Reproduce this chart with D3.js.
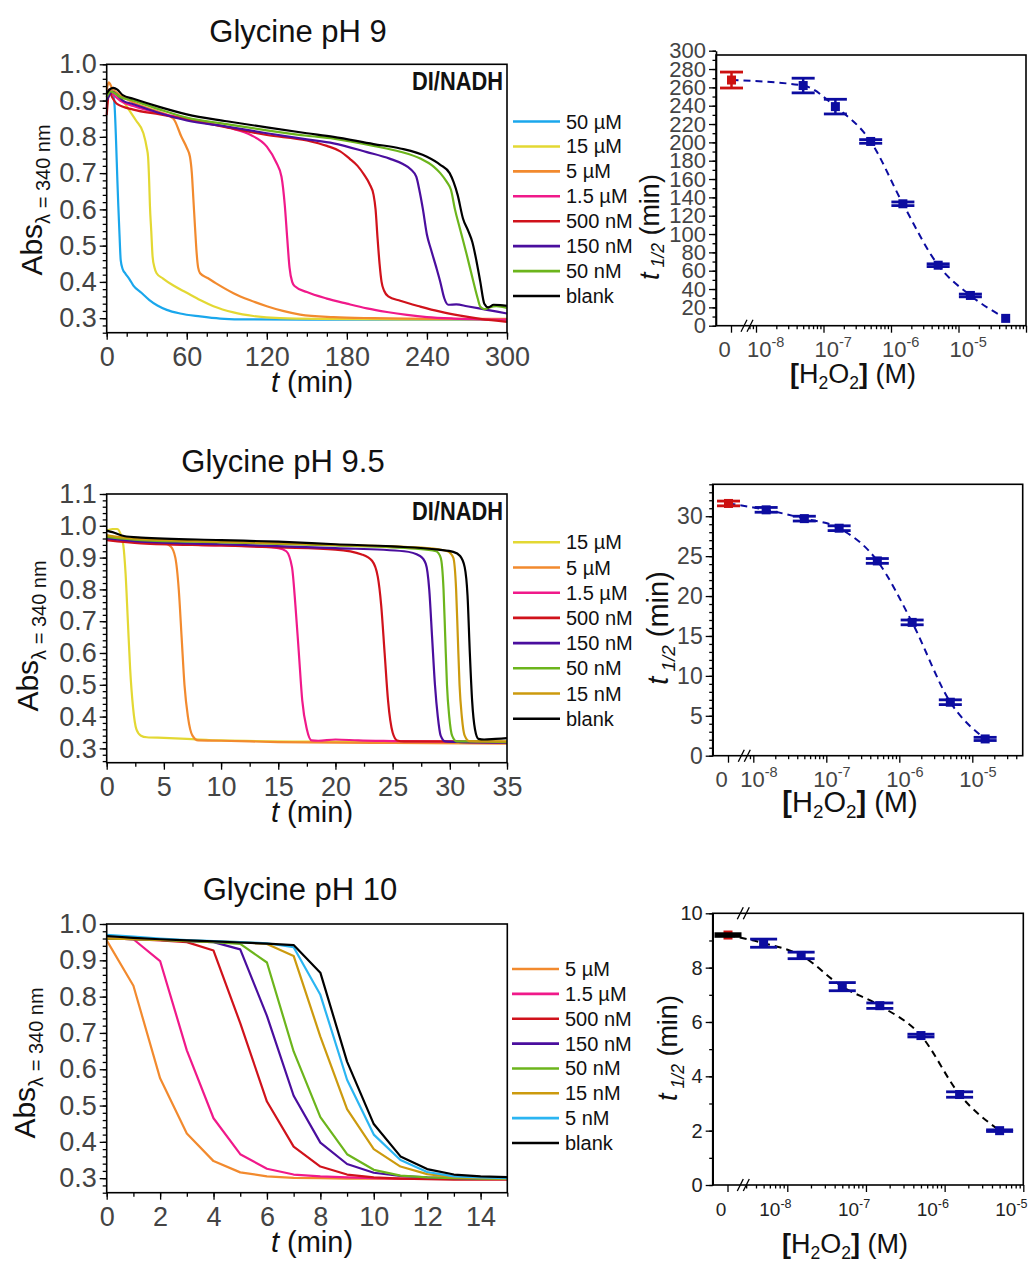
<!DOCTYPE html>
<html>
<head>
<meta charset="utf-8">
<script src="https://cdn.jsdelivr.net/npm/d3@7"></script>
<style>
  body { margin: 0; background: #fff; }
  svg { font-family: "Liberation Sans", Arial, Helvetica, sans-serif; }
</style>
</head>
<body>
<svg id="fig" width="1028" height="1266"></svg>
<script>
// ---------------- data ----------------

// Glycine pH 9 : absorbance traces, [t (min), Abs]
var ph9Labels = ["50 µM", "15 µM", "5 µM", "1.5 µM", "500 nM", "150 nM", "50 nM", "blank"];
var ph9Traces = [
  [[0,0.90],[1.5,0.915],[3,0.925],[5,0.915],[6,0.88],[7,0.79],[8,0.68],[8.7,0.61],[9.6,0.53],[10.5,0.46],[12,0.435],[14,0.423],[17,0.408],[20,0.39],[26,0.37],[32,0.35],[38,0.335],[45,0.323],[55,0.313],[70,0.305],[85,0.299],[100,0.297],[150,0.296],[200,0.296],[250,0.296],[300,0.296]],
  [[0,0.91],[2,0.93],[5,0.925],[10,0.91],[17.5,0.87],[22,0.845],[27.5,0.81],[30,0.77],[31,0.745],[31.8,0.68],[32.4,0.61],[33.4,0.54],[34.4,0.47],[35.8,0.44],[37.4,0.424],[42,0.41],[50,0.39],[60,0.37],[70,0.35],[80,0.333],[95,0.316],[110,0.306],[130,0.3],[160,0.298],[220,0.297],[300,0.297]],
  [[0,0.93],[1.5,0.95],[4,0.935],[10,0.915],[20,0.895],[30,0.88],[40,0.868],[50,0.85],[56,0.80],[60,0.77],[62.4,0.745],[63.8,0.70],[65,0.626],[66.2,0.55],[67.4,0.48],[68.5,0.44],[70,0.424],[76,0.41],[82,0.396],[95,0.369],[107,0.35],[120,0.333],[132,0.32],[145,0.31],[170,0.303],[200,0.3],[250,0.298],[300,0.298]],
  [[0,0.88],[1.5,0.93],[4,0.92],[10,0.9],[20,0.885],[40,0.865],[60,0.85],[80,0.835],[95,0.822],[108,0.805],[120,0.773],[127,0.73],[131,0.69],[133.5,0.61],[135.3,0.52],[137,0.44],[139,0.4],[141,0.388],[150,0.372],[165,0.354],[180,0.34],[195,0.327],[210,0.317],[225,0.309],[240,0.303],[260,0.299],[280,0.297],[300,0.296]],
  [[0,0.86],[1,0.905],[2,0.925],[4,0.91],[8,0.89],[20,0.875],[40,0.862],[60,0.848],[90,0.826],[120,0.805],[150,0.79],[165,0.775],[175,0.76],[182,0.74],[188,0.72],[193,0.695],[197,0.67],[200,0.64],[201.5,0.6],[203,0.52],[204.5,0.45],[206,0.4],[208,0.375],[211,0.36],[220,0.348],[235,0.332],[250,0.318],[265,0.307],[280,0.298],[300,0.29]],
  [[0,0.9],[2,0.915],[4,0.925],[8,0.915],[12,0.9],[20,0.89],[40,0.865],[60,0.845],[90,0.828],[120,0.81],[150,0.793],[170,0.782],[195,0.758],[212,0.74],[222,0.725],[228,0.71],[232,0.69],[234.5,0.65],[237,0.6],[240,0.53],[243,0.49],[247,0.44],[250,0.4],[253,0.355],[256,0.337],[262,0.338],[270,0.333],[285,0.323],[300,0.313]],
  [[0,0.91],[3,0.925],[6,0.92],[10,0.91],[20,0.9],[40,0.875],[60,0.853],[90,0.835],[120,0.818],[150,0.803],[170,0.795],[200,0.775],[220,0.759],[235,0.74],[245,0.718],[250,0.7],[255,0.675],[258,0.654],[261,0.6],[264.5,0.55],[269.5,0.48],[274.5,0.405],[278,0.355],[280,0.332],[283,0.325],[287,0.33],[292,0.333],[300,0.328]],
  [[0,0.92],[2,0.93],[5,0.935],[8,0.93],[12,0.915],[20,0.905],[40,0.882],[60,0.862],[90,0.843],[120,0.826],[150,0.81],[170,0.8],[200,0.78],[220,0.768],[240,0.745],[250,0.723],[257,0.70],[260,0.675],[263,0.64],[267,0.575],[271,0.54],[274,0.51],[277,0.46],[280,0.4],[283,0.34],[286,0.33],[290,0.337],[295,0.336],[300,0.334]]
];
var ph9XTicks = [0, 60, 120, 180, 240, 300];
var ph9YTicks = [0.3, 0.4, 0.5, 0.6, 0.7, 0.8, 0.9, 1.0];

// Glycine pH 9.5
var ph95Labels = ["15 µM", "5 µM", "1.5 µM", "500 nM", "150 nM", "50 nM", "15 nM", "blank"];
var ph95Traces = [
  [[0,0.985],[0.5,0.99],[0.9,0.99],[1.2,0.975],[1.45,0.94],[1.65,0.85],[1.85,0.7],[2.05,0.55],[2.3,0.43],[2.6,0.36],[3.0,0.34],[3.5,0.335],[5,0.333],[7,0.33],[10,0.325],[20,0.321],[35,0.318]],
  [[0,0.97],[1,0.96],[3,0.952],[5,0.945],[5.6,0.935],[6.0,0.9],[6.3,0.8],[6.55,0.65],[6.8,0.5],[7.1,0.4],[7.5,0.34],[8,0.325],[10,0.324],[15,0.32],[20,0.318],[25,0.317],[35,0.315]],
  [[0,0.96],[3,0.948],[8,0.94],[13,0.935],[15,0.93],[15.7,0.92],[16.2,0.87],[16.5,0.75],[16.8,0.6],[17.1,0.45],[17.5,0.36],[17.9,0.325],[18.5,0.324],[20,0.328],[22,0.325],[25,0.323],[35,0.32]],
  [[0,0.955],[3,0.945],[10,0.938],[15,0.932],[20,0.925],[22.3,0.91],[23.2,0.89],[23.7,0.84],[24.0,0.75],[24.3,0.6],[24.6,0.45],[25.0,0.35],[25.4,0.325],[26,0.322],[30,0.322],[35,0.32]],
  [[0,0.96],[3,0.95],[10,0.942],[20,0.93],[26,0.92],[27.4,0.905],[27.9,0.88],[28.2,0.8],[28.45,0.65],[28.7,0.5],[28.95,0.4],[29.2,0.34],[29.6,0.322],[31,0.32],[35,0.318]],
  [[0,0.965],[3,0.955],[10,0.948],[20,0.938],[27,0.928],[28.8,0.92],[29.2,0.9],[29.45,0.8],[29.6,0.65],[29.75,0.5],[29.95,0.4],[30.2,0.34],[30.6,0.322],[32,0.322],[35,0.32]],
  [[0,0.97],[3,0.958],[10,0.95],[20,0.94],[28,0.93],[29.8,0.92],[30.3,0.9],[30.55,0.8],[30.7,0.65],[30.85,0.5],[31.05,0.4],[31.3,0.34],[31.7,0.323],[33,0.322],[35,0.322]],
  [[0,0.985],[0.5,0.98],[1.5,0.968],[3,0.963],[10,0.955],[15,0.95],[20,0.942],[25,0.935],[29,0.925],[30.3,0.918],[30.9,0.905],[31.3,0.87],[31.55,0.78],[31.75,0.6],[31.95,0.45],[32.2,0.36],[32.5,0.33],[33,0.328],[34,0.33],[35,0.332]]
];
var ph95XTicks = [0, 5, 10, 15, 20, 25, 30, 35];
var ph95YTicks = [0.3, 0.4, 0.5, 0.6, 0.7, 0.8, 0.9, 1.0, 1.1];

// Glycine pH 10 (one reading per minute)
var ph10Labels = ["5 µM", "1.5 µM", "500 nM", "150 nM", "50 nM", "15 nM", "5 nM", "blank"];
var ph10Times = [0, 1, 2, 3, 4, 5, 6, 7, 8, 9, 10, 11, 12, 13, 14, 15];
var ph10Abs = [
  [0.955,0.83,0.575,0.423,0.347,0.316,0.305,0.301,0.3,0.299,0.299,0.298,0.298,0.298,0.298,0.298],
  [0.96,0.958,0.898,0.652,0.465,0.366,0.326,0.31,0.305,0.302,0.3,0.299,0.298,0.298,0.298,0.298],
  [0.96,0.958,0.955,0.95,0.927,0.727,0.511,0.387,0.332,0.31,0.302,0.299,0.297,0.296,0.296,0.296],
  [0.96,0.958,0.956,0.953,0.95,0.93,0.747,0.527,0.398,0.339,0.315,0.306,0.302,0.3,0.299,0.298],
  [0.96,0.958,0.956,0.953,0.95,0.945,0.894,0.649,0.468,0.366,0.323,0.307,0.302,0.3,0.299,0.298],
  [0.96,0.958,0.956,0.954,0.952,0.95,0.945,0.912,0.69,0.49,0.38,0.332,0.311,0.303,0.3,0.299],
  [0.97,0.965,0.96,0.956,0.953,0.95,0.947,0.936,0.805,0.571,0.42,0.35,0.317,0.305,0.302,0.3],
  [0.967,0.962,0.958,0.955,0.952,0.949,0.946,0.942,0.866,0.621,0.449,0.36,0.325,0.31,0.305,0.303]
];
var ph10XTicks = [0, 2, 4, 6, 8, 10, 12, 14];
var ph10YTicks = [0.3, 0.4, 0.5, 0.6, 0.7, 0.8, 0.9, 1.0];

// half-life vs [H2O2] (M); blank plotted at "0"
var ph9Conc = [5e-8, 1.5e-7, 5e-7, 1.5e-6, 5e-6, 1.5e-5, 5e-5];
var ph9Half = [262, 239, 201, 133, 66, 33, 8];
var ph9HalfErr = [8, 8, 2, 2, 1.5, 1.5, 0];
var ph9Blank = [268, 8.7];
var ph9HalfYTicks = [0,20,40,60,80,100,120,140,160,180,200,220,240,260,280,300];

var ph95Conc = [1.5e-8, 5e-8, 1.5e-7, 5e-7, 1.5e-6, 5e-6, 1.5e-5];
var ph95Half = [30.8, 29.7, 28.5, 24.4, 16.7, 6.7, 2.1];
var ph95HalfErr = [0.3, 0.3, 0.3, 0.3, 0.3, 0.3, 0.2];
var ph95Blank = [31.6, 0.3];
var ph95HalfYTicks = [0, 5, 10, 15, 20, 25, 30];

var ph10Conc = [5e-9, 1.5e-8, 5e-8, 1.5e-7, 5e-7, 1.55e-6, 5e-6];
var ph10Half = [8.9, 8.45, 7.3, 6.6, 5.5, 3.33, 2.0];
var ph10HalfErr = [0.15, 0.12, 0.15, 0.1, 0.05, 0.1, 0.03];
var ph10Blank = [9.2, 0.05];
var ph10HalfYTicks = [0, 2, 4, 6, 8, 10];

var decadeExps = [-8, -7, -6, -5];

// ---------------- styles ----------------
var traceColors = {
  "50 µM": "#1aa7ec", "15 µM": "#e3d833", "5 µM": "#f28a2e", "1.5 µM": "#f0198a",
  "500 nM": "#d0121b", "150 nM": "#4a0e9e", "50 nM": "#6cb51c", "15 nM": "#cc9a0e",
  "5 nM": "#2bb5f2", "blank": "#000000"
};
var FONT = "'Liberation Sans', Arial, Helvetica, sans-serif";
var svg = d3.select("#fig");

function stripDomain(sel) { sel.select(".domain").remove(); }
function styleAxis(sel, size, color) {
  sel.attr("font-family", null).attr("font-size", null);
  sel.selectAll(".tick line").attr("stroke", "#000").attr("stroke-width", 1.3);
  sel.selectAll(".tick text").attr("fill", color).style("font-size", size + "px").style("font-family", FONT);
  sel.select(".domain").attr("stroke", "#000").attr("stroke-width", 1.6);
}

// ---------------- kinetic trace panels ----------------
function drawKinetics(p) {
  var g = svg.append("g");
  var x = d3.scaleLinear().domain([0, p.xMax]).range([p.left, p.right]);
  var y = d3.scaleLinear().domain([p.yMin, p.yMax]).range([p.bottom, p.top]);

  var line = d3.line().x(function (d) { return x(d[0]); }).y(function (d) { return y(d[1]); }).curve(p.curve);
  g.append("g").selectAll("path").data(p.traces).join("path")
    .attr("d", line)
    .attr("fill", "none")
    .attr("stroke", function (d, i) { return traceColors[p.labels[i]]; })
    .attr("stroke-width", 2.2)
    .attr("stroke-linejoin", "round");

  // minor ticks
  g.append("g").attr("transform", "translate(0," + p.bottom + ")")
    .call(d3.axisBottom(x).tickValues(p.xMinor).tickSize(4).tickFormat(""))
    .call(stripDomain).call(styleAxis, 10, "#444");
  g.append("g").attr("transform", "translate(" + p.left + ",0)")
    .call(d3.axisLeft(y).tickValues(p.yMinor).tickSize(4).tickFormat(""))
    .call(stripDomain).call(styleAxis, 10, "#444");
  // major ticks
  g.append("g").attr("transform", "translate(0," + p.bottom + ")")
    .call(d3.axisBottom(x).tickValues(p.xTicks).tickSize(7).tickPadding(7).tickFormat(d3.format("d")))
    .call(stripDomain).call(styleAxis, 27, "#444");
  g.append("g").attr("transform", "translate(" + p.left + ",0)")
    .call(d3.axisLeft(y).tickValues(p.yTicks).tickSize(7).tickPadding(3).tickFormat(d3.format(".1f")))
    .call(stripDomain).call(styleAxis, 27, "#444");

  g.append("rect")
    .attr("x", p.left).attr("y", p.top)
    .attr("width", p.right - p.left).attr("height", p.bottom - p.top)
    .attr("fill", "none").attr("stroke", "#000").attr("stroke-width", 1.6);

  // title
  g.append("text").attr("x", p.titleX).attr("y", p.titleY)
    .attr("text-anchor", "middle").style("font-size", "31px").attr("fill", "#111")
    .text(p.title);

  // x title
  var xt = g.append("text").attr("x", 312).attr("y", p.xTitleY)
    .attr("text-anchor", "middle").style("font-size", "29px").attr("fill", "#111");
  xt.append("tspan").style("font-style", "italic").text("t");
  xt.append("tspan").text(" (min)");

  // y title
  var yt = g.append("text")
    .attr("transform", "translate(" + p.yTitleX + "," + p.yTitleY + ") rotate(-90)")
    .attr("text-anchor", "middle").attr("fill", "#111");
  yt.append("tspan").style("font-size", "30px").text("Abs");
  yt.append("tspan").style("font-size", "20px").attr("dy", 8).text("λ = 340 nm");

  if (p.tag) {
    g.append("text").attr("x", p.right - 4).attr("y", p.top + 26)
      .attr("text-anchor", "end").style("font-size", "26px").style("font-weight", "bold")
      .attr("fill", "#111")
      .attr("textLength", 91).attr("lengthAdjust", "spacingAndGlyphs")
      .text(p.tag);
  }

  // legend
  var lg = g.append("g");
  p.labels.forEach(function (lab, i) {
    var yy = p.legendY0 + i * p.legendDy;
    lg.append("line").attr("x1", p.legendX).attr("x2", p.legendX + 47)
      .attr("y1", yy).attr("y2", yy)
      .attr("stroke", traceColors[lab]).attr("stroke-width", 2.6);
    lg.append("text").attr("x", p.legendX + 53).attr("y", yy).attr("dy", "0.35em")
      .style("font-size", "20px").attr("fill", "#111").text(lab);
  });
}

function rangeStep(a, b, s) {
  var n = Math.round((b - a) / s);
  return d3.range(n + 1).map(function (i) { return +(a + i * s).toFixed(4); });
}

drawKinetics({
  title: "Glycine pH 9", titleX: 298, titleY: 42,
  labels: ph9Labels, traces: ph9Traces, curve: d3.curveMonotoneX,
  left: 106.7, right: 507, top: 64.3, bottom: 332.7,
  xMax: 300, yMin: 0.26, yMax: 1.0,
  xTicks: ph9XTicks, yTicks: ph9YTicks,
  xMinor: rangeStep(0, 300, 15), yMinor: rangeStep(0.26, 1.0, 0.02),
  xTitleY: 392, yTitleX: 42, yTitleY: 200, tag: "DI/NADH",
  legendX: 513, legendY0: 121.5, legendDy: 24.93
});

drawKinetics({
  title: "Glycine pH 9.5", titleX: 283, titleY: 472,
  labels: ph95Labels, traces: ph95Traces, curve: d3.curveMonotoneX,
  left: 106.7, right: 507, top: 494, bottom: 762.7,
  xMax: 35, yMin: 0.255, yMax: 1.1,
  xTicks: ph95XTicks, yTicks: ph95YTicks,
  xMinor: rangeStep(0, 35, 2.5), yMinor: rangeStep(0.26, 1.1, 0.02),
  xTitleY: 822, yTitleX: 38, yTitleY: 636, tag: "DI/NADH",
  legendX: 513, legendY0: 542.3, legendDy: 25.2
});

drawKinetics({
  title: "Glycine pH 10", titleX: 300, titleY: 900,
  labels: ph10Labels,
  traces: ph10Abs.map(function (row) { return row.map(function (a, i) { return [ph10Times[i], a]; }); }),
  curve: d3.curveLinear,
  left: 106.7, right: 507.3, top: 924, bottom: 1192.7,
  xMax: 15, yMin: 0.26, yMax: 1.0,
  xTicks: ph10XTicks, yTicks: ph10YTicks,
  xMinor: rangeStep(0, 15, 1), yMinor: rangeStep(0.26, 1.0, 0.02),
  xTitleY: 1252, yTitleX: 35, yTitleY: 1063, tag: null,
  legendX: 512, legendY0: 969, legendDy: 24.86
});

// ---------------- half-life panels ----------------
function drawHalfLife(p) {
  var g = svg.append("g");
  var xz = d3.scaleBand().domain(["0"]).range([p.left, p.breakX]);
  var xl = d3.scaleLog().domain(p.logDomain).range(p.logRange);
  var y = d3.scaleLinear().domain([0, p.yMax]).range([p.bottom, p.yTopPx]);
  var x0 = xz("0") + xz.bandwidth() / 2;

  // log ticks
  var minor = [];
  for (var e = -10; e <= -4; e++) {
    for (var k = 2; k <= 9; k++) {
      var v = k * Math.pow(10, e), px = xl(v);
      if (px > p.breakX + 2 && px <= p.right + 0.5) minor.push(v);
    }
  }
  var majors = [];
  for (var e2 = -10; e2 <= -4; e2++) {
    var v2 = Math.pow(10, e2);
    if (xl(v2) > p.breakX + 2 && xl(v2) <= p.right + 0.5) majors.push(v2);
  }
  g.append("g").attr("transform", "translate(0," + p.bottom + ")")
    .call(d3.axisBottom(xl).tickValues(minor).tickSize(3.5).tickFormat(""))
    .call(stripDomain).call(styleAxis, 10, "#444");
  g.append("g").attr("transform", "translate(0," + p.bottom + ")")
    .call(d3.axisBottom(xl).tickValues(majors).tickSize(7).tickFormat(""))
    .call(stripDomain).call(styleAxis, 10, "#444");
  g.append("g").attr("transform", "translate(0," + p.bottom + ")")
    .call(d3.axisBottom(xz).tickSize(7).tickFormat(""))
    .call(stripDomain).call(styleAxis, 10, "#444");

  // x tick labels
  g.append("text").attr("x", x0 - 7).attr("y", p.bottom + 31)
    .attr("text-anchor", "middle").style("font-size", p.xFont + "px").attr("fill", p.tickColor).text("0");
  decadeExps.forEach(function (ex) {
    var t = g.append("text").attr("x", xl(Math.pow(10, ex)) + p.labelDx).attr("y", p.bottom + 31)
      .style("font-size", p.xFont + "px").attr("fill", p.tickColor);
    t.append("tspan").text("10");
    t.append("tspan").attr("dy", -p.xFont * 0.42).style("font-size", (p.xFont * 0.66) + "px").text(String(ex));
  });

  // y axis
  g.append("g").attr("transform", "translate(" + p.left + ",0)")
    .call(d3.axisLeft(y).tickValues(p.yMinor).tickSize(3.5).tickFormat(""))
    .call(stripDomain).call(styleAxis, 10, "#444");
  g.append("g").attr("transform", "translate(" + p.left + ",0)")
    .call(d3.axisLeft(y).tickValues(p.yTicks).tickSize(7).tickPadding(3).tickSizeOuter(0).tickFormat(d3.format("d")))
    .call(styleAxis, p.yFont, p.tickColor);

  g.append("rect")
    .attr("x", p.left).attr("y", p.top)
    .attr("width", p.right - p.left).attr("height", p.bottom - p.top)
    .attr("fill", "none").attr("stroke", "#000").attr("stroke-width", 1.6);

  // axis break marks
  p.breakAt.forEach(function (yy) {
    [-3, 3].forEach(function (o) {
      g.append("line")
        .attr("x1", p.breakX + o - 3).attr("y1", yy + 6)
        .attr("x2", p.breakX + o + 3).attr("y2", yy - 6)
        .attr("stroke", "#000").attr("stroke-width", 1.3);
    });
  });

  // dashed guide through the points
  var pts = [[x0, y(p.blank[0])]].concat(p.conc.map(function (c, i) { return [xl(c), y(p.half[i])]; }));
  g.append("path").attr("d", d3.line().curve(d3.curveMonotoneX)(pts))
    .attr("fill", "none").attr("stroke", p.lineColor).attr("stroke-width", 2)
    .attr("stroke-dasharray", "7,5");

  function errBar(cx, v, e, color, capW) {
    if (e > 0) {
      g.append("line").attr("x1", cx).attr("x2", cx).attr("y1", y(v - e)).attr("y2", y(v + e))
        .attr("stroke", color).attr("stroke-width", 2.5);
      [v - e, v + e].forEach(function (w) {
        g.append("line").attr("x1", cx - capW / 2).attr("x2", cx + capW / 2)
          .attr("y1", y(w)).attr("y2", y(w)).attr("stroke", color).attr("stroke-width", 2.8);
      });
    }
  }
  function marker(cx, v, color) {
    g.append("rect").attr("x", cx - 4.5).attr("y", y(v) - 4.5).attr("width", 9).attr("height", 9)
      .attr("fill", color);
  }

  marker(x0, p.blank[0], "#cc1111");
  errBar(x0, p.blank[0], p.blank[1], p.blankErrColor, p.capW);
  p.conc.forEach(function (c, i) {
    errBar(xl(c), p.half[i], p.err[i], "#0c0ca0", p.capW);
    marker(xl(c), p.half[i], "#0c0ca0");
  });

  // axis titles
  var xt = g.append("text").attr("x", p.xTitleX).attr("y", p.xTitleY)
    .attr("text-anchor", "middle").style("font-size", p.titleFont + "px").attr("fill", "#111");
  xt.append("tspan").style("font-weight", "bold").text("[");
  xt.append("tspan").text("H");
  xt.append("tspan").attr("dy", 6).style("font-size", "0.65em").text("2");
  xt.append("tspan").attr("dy", -6).text("O");
  xt.append("tspan").attr("dy", 6).style("font-size", "0.65em").text("2");
  xt.append("tspan").attr("dy", -6).style("font-weight", "bold").text("]");
  xt.append("tspan").text(" (M)");

  var yt = g.append("text")
    .attr("transform", "translate(" + p.yTitleX + "," + p.yTitleY + ") rotate(-90)")
    .attr("text-anchor", "middle").style("font-size", p.titleFont + "px").attr("fill", "#111");
  yt.append("tspan").style("font-style", "italic").text("t");
  yt.append("tspan").attr("dy", p.subDy).style("font-style", "italic").style("font-size", "0.65em").text(" 1/2");
  yt.append("tspan").attr("dy", -p.subDy).text(" (min)");
}

drawHalfLife({
  left: 716, right: 1026, top: 55, bottom: 325.7, yTopPx: 50.7, breakX: 747,
  logDomain: [1e-8, 1e-4], logRange: [756, 1026], labelDx: -9,
  yMax: 300, yTicks: ph9HalfYTicks, yMinor: rangeStep(0, 300, 10),
  conc: ph9Conc, half: ph9Half, err: ph9HalfErr, blank: ph9Blank,
  blankErrColor: "#cc1111", lineColor: "#0c0ca0", capW: 23,
  xFont: 22, yFont: 22, tickColor: "#444", titleFont: 27,
  breakAt: [325.7],
  xTitleX: 853, xTitleY: 383, yTitleX: 659, yTitleY: 227, subDy: 5
});

drawHalfLife({
  left: 712.7, right: 1022.7, top: 484.3, bottom: 755.7, yTopPx: 484.3, breakX: 744.3,
  logDomain: [1e-8, 1e-5], logRange: [753.3, 972.3], labelDx: -13,
  yMax: 34, yTicks: ph95HalfYTicks, yMinor: rangeStep(0, 34, 1),
  conc: ph95Conc, half: ph95Half, err: ph95HalfErr, blank: ph95Blank,
  blankErrColor: "#cc1111", lineColor: "#0c0ca0", capW: 23,
  xFont: 22, yFont: 23, tickColor: "#444", titleFont: 29,
  breakAt: [755.7],
  xTitleX: 850, xTitleY: 812, yTitleX: 668, yTitleY: 628, subDy: 7
});

drawHalfLife({
  left: 712.7, right: 1023.3, top: 913.3, bottom: 1185, yTopPx: 913.3, breakX: 743.3,
  logDomain: [1e-8, 1e-5], logRange: [787.3, 1023.3], labelDx: -28,
  yMax: 10, yTicks: ph10HalfYTicks, yMinor: rangeStep(0, 10, 1),
  conc: ph10Conc, half: ph10Half, err: ph10HalfErr, blank: ph10Blank,
  blankErrColor: "#000", lineColor: "#000", capW: 27,
  xFont: 19, yFont: 20, tickColor: "#222", titleFont: 27,
  breakAt: [913.3, 1185],
  xTitleX: 845, xTitleY: 1253, yTitleX: 677, yTitleY: 1048, subDy: 7
});
</script>
</body>
</html>
